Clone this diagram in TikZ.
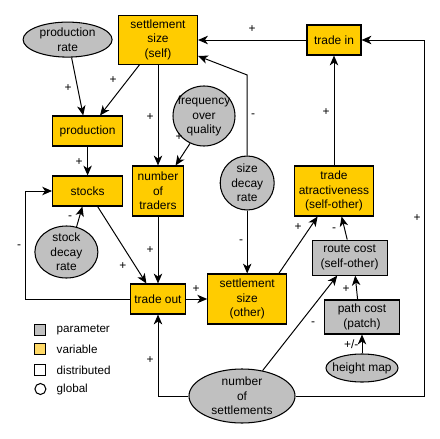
\documentclass[tikz,border=0pt]{standalone}
\usepackage{fontspec}
\setmainfont{Liberation Sans}
\usetikzlibrary{positioning,shapes,arrows.meta}
\definecolor{varyellow}{RGB}{255,204,0}
\definecolor{pargray}{RGB}{192,192,192}
\definecolor{legyellow}{RGB}{255,217,102}
\tikzset{
  box/.style={draw,rectangle,inner sep=0pt,align=center,line width=0.75pt,font=\fontsize{8.5}{10.3}\selectfont},
  var/.style={box,fill=varyellow},
  par/.style={box,fill=pargray},
  glob/.style={draw,ellipse,inner sep=-1cm,align=center,fill=pargray,line width=0.75pt,font=\fontsize{8.5}{10.3}\selectfont},
  arr/.style={-{Stealth[length=7pt,width=6pt,inset=2pt]},line width=0.7pt},
  sign/.style={inner sep=0pt,font=\fontsize{8.5}{10}\selectfont},
  legtext/.style={inner sep=0pt,font=\fontsize{8.3}{10}\selectfont}
}

\begin{document}
\begin{tikzpicture}
\useasboundingbox (0,0) rectangle (11,-10.975);
\node[var,minimum width=1.975cm,minimum height=1.225cm] (selfsize) at (3.95,-0.99) {settlement\\size\\(self)};
\node[glob,minimum width=2.225cm,minimum height=0.875cm] (prodrate) at (1.69,-0.99) {production\\rate};
\node[var,minimum width=1.75cm,minimum height=0.75cm] (production) at (2.19,-3.275) {production};
\node[var,minimum width=1.35cm,minimum height=0.75cm] (tradein) at (8.35,-1.0) {trade in};
\node[glob,minimum width=1.55cm,minimum height=1.5cm] (freq) at (5.1,-2.9) {frequency\\over\\quality};
\node[var,minimum width=1.75cm,minimum height=0.75cm] (stocks) at (2.19,-4.775) {stocks};
\node[var,minimum width=1.275cm,minimum height=1.25cm] (traders) at (3.95,-4.775) {number\\of\\traders};
\node[glob,minimum width=1.575cm,minimum height=1.3cm] (stockdecay) at (1.66,-6.3) {stock\\decay\\rate};
\node[glob,minimum width=1.35cm,minimum height=1.35cm] (sizedecay) at (6.18,-4.575) {size\\decay\\rate};
\node[var,minimum width=1.975cm,minimum height=1.25cm] (attract) at (8.35,-4.775) {trade\\atractiveness\\(self-other)};
\node[par,minimum width=1.875cm,minimum height=0.875cm] (routecost) at (8.74,-6.44) {route cost\\(self-other)};
\node[var,minimum width=1.375cm,minimum height=0.75cm] (tradeout) at (3.95,-7.475) {trade out};
\node[var,minimum width=1.975cm,minimum height=1.25cm] (othersize) at (6.18,-7.475) {settlement\\size\\(other)};
\node[par,minimum width=1.875cm,minimum height=0.85cm] (pathcost) at (9.05,-7.925) {path cost\\(patch)};
\node[glob,minimum width=1.8cm,minimum height=0.7cm] (heightmap) at (9.05,-9.2) {height map};
\node[glob,minimum width=2.65cm,minimum height=1.35cm] (numsett) at (6.05,-9.9) {number\\of\\settlements};

\draw[arr] ([xshift=0.1cm]prodrate.south) -- ([xshift=-0.11cm]production.north);
\draw[arr] ([xshift=-0.46cm]selfsize.south) -- ([xshift=0.31cm]production.north);
\draw[arr] (selfsize) -- (traders);
\draw[arr] (freq.243) -- ([xshift=0.44cm]traders.north);
\draw[arr] (production) -- (stocks);
\draw[arr] (stockdecay.68) -- ([xshift=-0.13cm]stocks.south);
\draw[arr] ([xshift=0.25cm]stocks.south) -- ([xshift=-0.29cm]tradeout.north);
\draw[arr] (traders) -- (tradeout);
\draw[arr] (tradeout.west) -| ([xshift=-0.675cm]stocks.west) -- (stocks.west);
\draw[arr] (tradeout) -- (othersize);
\draw[arr] (numsett.west) -| (tradeout.south);
\draw[arr] (numsett.51) -- ([xshift=-0.31cm]routecost.south);
\draw[arr] (numsett.east) -| ([xshift=1.575cm]tradein.east) -- (tradein.east);
\draw[arr] ([xshift=-0.11cm]pathcost.north) -- ([xshift=0.14cm]routecost.south);
\draw[arr] (heightmap) -- (pathcost);
\draw[arr] ([xshift=-0.06cm]routecost.north) -- ([xshift=0.19cm]attract.south);
\draw[arr] ([xshift=0.79cm]othersize.north) -- ([xshift=-0.41cm]attract.south);
\draw[arr] (attract) -- (tradein);
\draw[arr] (tradein.west) -- (tradein.west -| selfsize.east);
\draw[arr] (sizedecay) -- (othersize);
\coordinate (bend) at (6.18,-1.875);
\draw[arr] (sizedecay.north) -- (bend) -- ([yshift=-0.41cm]selfsize.east);

\node[sign] (s1) at (1.7,-2.2) {+};
\node[sign] (s2) at (2.83,-2.0) {+};
\node[sign] (s3) at (3.75,-2.93) {+};
\node[sign] (s4) at (4.48,-3.43) {+};
\node[sign] (s5) at (1.98,-4.05) {+};
\node[sign] (s6) at (1.75,-5.43) {-};
\node[sign] (s7) at (3.07,-6.65) {+};
\node[sign] (s8) at (3.75,-6.25) {+};
\node[sign] (s9) at (0.475,-6.175) {-};
\node[sign] (s10) at (4.9,-7.225) {+};
\node[sign] (s11) at (3.75,-9.0) {+};
\node[sign] (s12) at (7.83,-8.1) {-};
\node[sign] (s13) at (10.43,-5.45) {+};
\node[sign] (s14) at (8.65,-7.22) {+};
\node[sign] (s15) at (8.78,-8.6) {+/-};
\node[sign] (s16) at (8.35,-5.73) {-};
\node[sign] (s17) at (7.45,-5.68) {+};
\node[sign] (s18) at (8.15,-2.8) {+};
\node[sign] (s19) at (6.3,-0.73) {+};
\node[sign] (s20) at (6.03,-6.05) {-};
\node[sign] (s21) at (6.33,-2.88) {-};

\node[box,fill=pargray,minimum size=0.275cm] (legpar) at (1.01,-8.25) {};
\node[box,fill=legyellow,minimum size=0.275cm] (legvar) at (1.01,-8.725) {};
\node[box,minimum size=0.275cm] (legdist) at (1.01,-9.25) {};
\node[draw,circle,inner sep=0pt,line width=0.75pt,minimum size=0.275cm] (legglob) at (1.01,-9.725) {};
\node[legtext,right=0.25cm of legpar] (legparl) {parameter};
\node[legtext,right=0.25cm of legvar] (legvarl) {variable};
\node[legtext,right=0.25cm of legdist] (legdistl) {distributed};
\node[legtext,right=0.25cm of legglob] (legglobl) {global};
\end{tikzpicture}
\end{document}
